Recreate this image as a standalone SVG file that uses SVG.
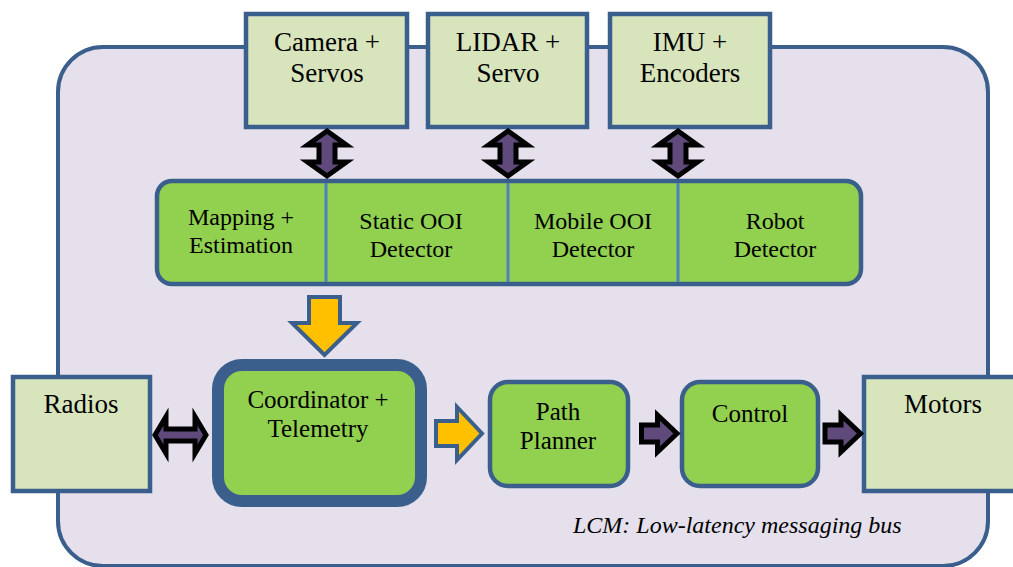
<svg xmlns="http://www.w3.org/2000/svg" width="1013" height="567" viewBox="0 0 1013 567">
  <defs>
    <style>
      .bus { fill: #E5E0EC; stroke: #3B5F8C; stroke-width: 4; }
      .dev { fill: #D8E4BC; stroke: #3B5F8C; stroke-width: 4.5; }
      .mod { fill: #92D050; stroke: #3B5F8C; stroke-width: 4.5; }
      .div { stroke: #4F81BD; stroke-width: 3; }
      .lbl { font-family: "Liberation Serif", "Times New Roman", serif; fill: #000; text-anchor: middle; }
      .big { font-size: 27px; }
      .mid { font-size: 25px; }
      .sm { font-size: 24px; }
      .note { font-family: "Liberation Serif", "Times New Roman", serif; font-style: italic; font-size: 24px; fill: #000; }
      .dual { fill: #604A7B; stroke: #000; stroke-width: 5; stroke-linejoin: miter; stroke-miterlimit: 10; }
      .flow { fill: #FFC000; stroke: #3B5F8C; stroke-width: 4; stroke-linejoin: miter; }
      .data { fill: #604A7B; stroke: #000; stroke-width: 5; stroke-linejoin: miter; stroke-miterlimit: 10; }
    </style>
    <!-- up/down two-headed arrow, centred on origin -->
    <path id="vdual" d="M0,-22.5 L19.5,-8.5 L8,-8.5 L8,8.5 L19.5,8.5 L0,22.5 L-19.5,8.5 L-8,8.5 L-8,-8.5 L-19.5,-8.5 Z"/>
    <!-- left/right two-headed arrow, centred on origin -->
    <path id="hdual" d="M-25.5,0 L-14.5,-18.5 L-14.5,-6 L14.5,-6 L14.5,-18.5 L25.5,0 L14.5,18.5 L14.5,6 L-14.5,6 L-14.5,18.5 Z"/>
  </defs>

  <!-- LCM bus container -->
  <rect id="bus" class="bus" x="58" y="47" width="930" height="519" rx="45"/>

  <!-- sensors -->
  <g id="camera">
    <rect class="dev" x="246" y="14" width="161" height="113"/>
    <text class="lbl big" x="327" y="51">Camera +</text>
    <text class="lbl big" x="327" y="82">Servos</text>
  </g>
  <g id="lidar">
    <rect class="dev" x="428" y="14" width="159" height="113"/>
    <text class="lbl big" x="508" y="51">LIDAR +</text>
    <text class="lbl big" x="508" y="82">Servo</text>
  </g>
  <g id="imu">
    <rect class="dev" x="610" y="14" width="160" height="113"/>
    <text class="lbl big" x="690" y="51">IMU +</text>
    <text class="lbl big" x="690" y="82">Encoders</text>
  </g>

  <!-- perception bar -->
  <g id="perception">
    <rect class="mod" x="157" y="181" width="704" height="103" rx="15"/>
    <line class="div" x1="326" y1="183" x2="326" y2="282"/>
    <line class="div" x1="508" y1="183" x2="508" y2="282"/>
    <line class="div" x1="678" y1="183" x2="678" y2="282"/>
  </g>
  <g id="mapping">
    <text class="lbl sm" x="241" y="225">Mapping +</text>
    <text class="lbl sm" x="241" y="253">Estimation</text>
  </g>
  <g id="static-ooi">
    <text class="lbl sm" x="411" y="229">Static OOI</text>
    <text class="lbl sm" x="411" y="257">Detector</text>
  </g>
  <g id="mobile-ooi">
    <text class="lbl sm" x="593" y="229">Mobile OOI</text>
    <text class="lbl sm" x="593" y="257">Detector</text>
  </g>
  <g id="robot">
    <text class="lbl sm" x="775" y="229">Robot</text>
    <text class="lbl sm" x="775" y="257">Detector</text>
  </g>

  <!-- actors on the bottom row -->
  <g id="radios">
    <rect class="dev" x="13" y="377" width="137" height="114"/>
    <text class="lbl big" x="81" y="413">Radios</text>
  </g>
  <g id="coordinator">
    <rect class="mod" x="218" y="365" width="203" height="136" rx="24" style="stroke-width:12"/>
    <text class="lbl mid" x="318" y="408">Coordinator +</text>
    <text class="lbl mid" x="318" y="437">Telemetry</text>
  </g>
  <g id="planner">
    <rect class="mod" x="490" y="382" width="138" height="104" rx="18"/>
    <text class="lbl mid" x="558" y="420">Path</text>
    <text class="lbl mid" x="558" y="449">Planner</text>
  </g>
  <g id="control">
    <rect class="mod" x="682" y="382" width="136" height="104" rx="18"/>
    <text class="lbl mid" x="750" y="422">Control</text>
  </g>
  <g id="motors">
    <rect class="dev" x="864" y="377" width="160" height="114"/>
    <text class="lbl big" x="943" y="413">Motors</text>
  </g>

  <text class="note" x="573" y="533">LCM: Low-latency messaging bus</text>

  <!-- connectors -->
  <g id="connectors">
    <use href="#vdual" class="dual" transform="translate(327,153.5)"/>
    <use href="#vdual" class="dual" transform="translate(508,153.5)"/>
    <use href="#vdual" class="dual" transform="translate(678,153.5)"/>
    <!-- perception to coordinator -->
    <path class="flow" d="M309,297 L340,297 L340,323 L357,323 L324.5,355 L292,323 L309,323 Z"/>
    <!-- radios to coordinator -->
    <use href="#hdual" class="dual" transform="translate(180.5,435)"/>
    <!-- coordinator to planner -->
    <path class="flow" d="M436,421 L457,421 L457,407 L482,433.5 L457,460 L457,446 L436,446 Z"/>
    <!-- planner to control -->
    <path class="data" d="M641.5,425 L657.5,425 L657.5,415 L677,433.5 L657.5,452 L657.5,442 L641.5,442 Z"/>
    <!-- control to motors -->
    <path class="data" d="M825,425 L841,425 L841,415 L860.5,433.5 L841,452 L841,442 L825,442 Z"/>
  </g>
</svg>
